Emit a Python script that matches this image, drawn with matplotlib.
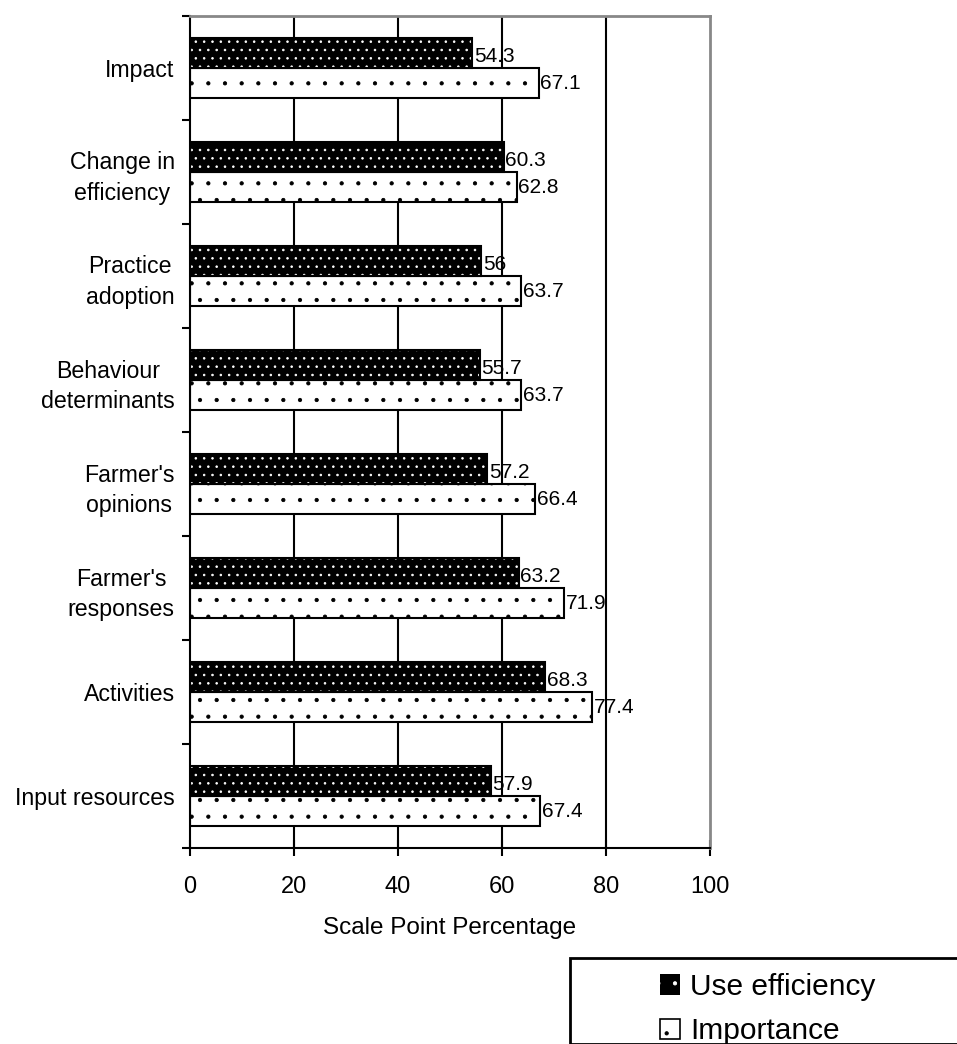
import matplotlib
matplotlib.use("Agg")
import matplotlib.pyplot as plt
from matplotlib.patches import Patch, Rectangle
import numpy as np

plt.rcParams['font.family'] = ['Liberation Sans', 'DejaVu Sans']
plt.rcParams['hatch.linewidth'] = 0.6

categories = ["Impact", "Change in\nefficiency", "Practice\nadoption", "Behaviour\ndeterminants",
              "Farmer's\nopinions", "Farmer's\nresponses", "Activities", "Input resources"]
use_efficiency = [54.3, 60.3, 56, 55.7, 57.2, 63.2, 68.3, 57.9]
importance = [67.1, 62.8, 63.7, 63.7, 66.4, 71.9, 77.4, 67.4]
use_labels = ["54.3", "60.3", "56", "55.7", "57.2", "63.2", "68.3", "57.9"]
imp_labels = ["67.1", "62.8", "63.7", "63.7", "66.4", "71.9", "77.4", "67.4"]
xticks = [0, 20, 40, 60, 80, 100]

fig = plt.figure(figsize=(9.57, 10.44), dpi=100)
ax = fig.add_axes([0.1985, 0.1877, 0.5434, 0.797])

y = np.arange(len(categories))
h = 0.29

# vertical grid lines
for xv in xticks[1:-1]:
    ax.axvline(xv, color='black', lw=1.5, zorder=0)

# Use efficiency: black with white dots
ax.barh(y - h/2, use_efficiency, height=h, color='black', edgecolor='white',
        hatch='..', linewidth=0, zorder=2)
ax.barh(y - h/2, use_efficiency, height=h, fill=False, edgecolor='black',
        linewidth=1.5, zorder=3)
# Importance: white with sparse black dots
ax.barh(y + h/2, importance, height=h, color='white', edgecolor='black',
        hatch='.', linewidth=0, zorder=2)
ax.barh(y + h/2, importance, height=h, fill=False, edgecolor='black',
        linewidth=1.5, zorder=3)

for yi, v, lab in zip(y, use_efficiency, use_labels):
    ax.text(v + 0.3, yi - h/2 + 0.03, lab, va='center', ha='left', fontsize=15, zorder=4)
for yi, v, lab in zip(y, importance, imp_labels):
    ax.text(v + 0.3, yi + h/2, lab, va='center', ha='left', fontsize=15, zorder=4)

ax.set_xlim(0, 100)
ax.set_ylim(len(categories) - 0.5, -0.5)
ax.set_xticks(xticks)
ax.set_xticklabels([str(t) for t in xticks], fontsize=17)
ax.tick_params(axis='x', direction='inout', length=12, width=1.5, pad=14)
ax.set_yticks(y)
ax.set_yticklabels(categories, fontsize=16.7, ha='right', multialignment='center',
                   linespacing=1.42)
ax.tick_params(axis='y', which='major', length=0, pad=11)
ax.set_yticks(np.arange(-0.5, len(categories) + 0.5, 1.0), minor=True)
ax.tick_params(axis='y', which='minor', direction='out', length=6, width=1.5)
ax.set_xlabel("Scale Point Percentage", fontsize=17.5, labelpad=14)

ax.spines['left'].set_color('black')
ax.spines['left'].set_linewidth(1.5)
ax.spines['bottom'].set_color('black')
ax.spines['bottom'].set_linewidth(1.5)
ax.spines['top'].set_color('#888888')
ax.spines['top'].set_linewidth(2)
ax.spines['right'].set_color('#888888')
ax.spines['right'].set_linewidth(2)

# legend box
rect = Rectangle((570/957, 0.0), 0.5, 1 - 958/1044, transform=fig.transFigure,
                 fill=False, edgecolor='black', linewidth=2, clip_on=False)
fig.patches.append(rect)
handles = [Patch(facecolor='black', edgecolor='white', hatch='.', linewidth=0),
           Patch(facecolor='white', edgecolor='black', hatch='.', linewidth=1.2)]
leg = fig.legend(handles, ["Use efficiency", "Importance"], loc='upper left',
                 bbox_to_anchor=(639/957, 1 - 952/1044), frameon=False, fontsize=21.5,
                 handlelength=0.67, handleheight=0.67, handletextpad=0.33,
                 labelspacing=0.55, borderpad=0.2)

fig.savefig("out.png", dpi=100)
